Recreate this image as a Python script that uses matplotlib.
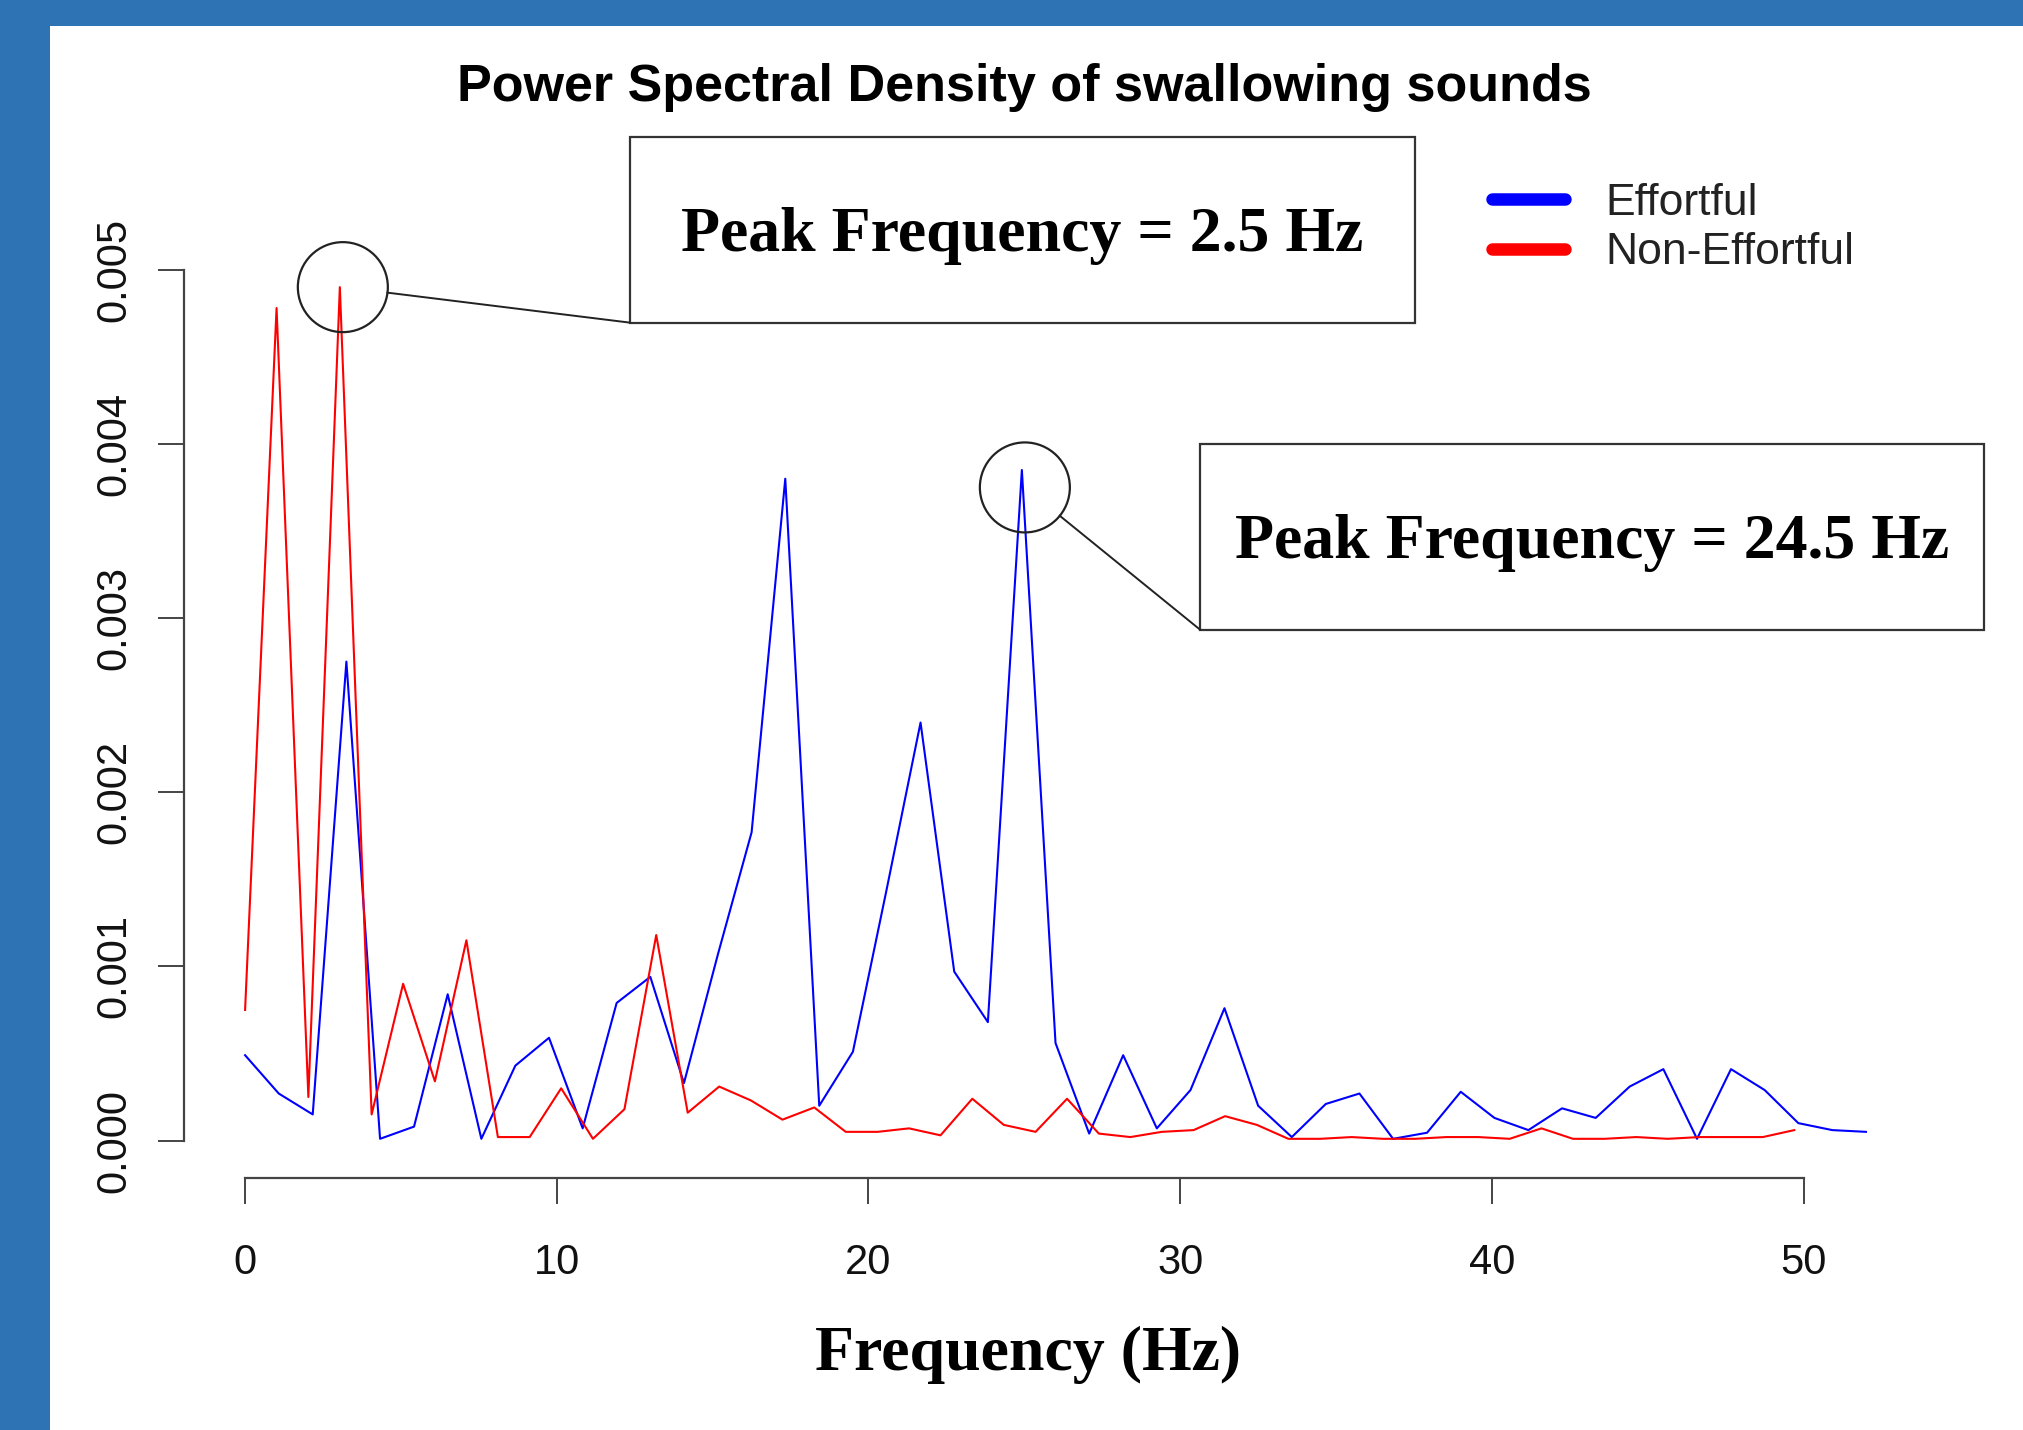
import numpy as np
import matplotlib
matplotlib.use('Agg')
import matplotlib.pyplot as plt
from matplotlib.lines import Line2D
from matplotlib.patches import Rectangle, Circle
from matplotlib.ticker import FormatStrFormatter

# frequency grids (Hz)
freq_effortful = [0.0, 1.08, 2.17, 3.25, 4.33, 5.42, 6.5, 7.58, 8.67, 9.75,
                  10.83, 11.92, 13.0, 14.08, 15.17, 16.25, 17.33, 18.42, 19.5, 20.58,
                  21.67, 22.75, 23.83, 24.92, 26.0, 27.08, 28.17, 29.25, 30.33, 31.42,
                  32.5, 33.58, 34.67, 35.75, 36.83, 37.92, 39.0, 40.08, 41.17, 42.25,
                  43.33, 44.42, 45.5, 46.58, 47.67, 48.75, 49.83, 50.92, 52.0]
psd_effortful = [0.49, 0.27, 0.15, 2.75, 0.01, 0.08, 0.84, 0.01, 0.43, 0.59,
                 0.07, 0.79, 0.94, 0.33, 1.07, 1.77, 3.80, 0.20, 0.51, 1.44,
                 2.40, 0.97, 0.68, 3.85, 0.56, 0.04, 0.49, 0.07, 0.29, 0.76,
                 0.20, 0.02, 0.21, 0.27, 0.01, 0.045, 0.28, 0.13, 0.06, 0.185,
                 0.13, 0.31, 0.41, 0.01, 0.41, 0.29, 0.10, 0.06, 0.05]

freq_non_effortful = [0.0, 1.01, 2.03, 3.04, 4.06, 5.07, 6.09, 7.1, 8.11, 9.13,
                      10.14, 11.16, 12.17, 13.19, 14.2, 15.21, 16.23, 17.24, 18.26, 19.27,
                      20.29, 21.3, 22.31, 23.33, 24.34, 25.36, 26.37, 27.39, 28.4, 29.41,
                      30.43, 31.44, 32.46, 33.47, 34.49, 35.5, 36.51, 37.53, 38.54, 39.56,
                      40.57, 41.59, 42.6, 43.61, 44.63, 45.64, 46.66, 47.67, 48.69, 49.7]
psd_non_effortful = [0.75, 4.78, 0.25, 4.90, 0.15, 0.90, 0.34, 1.15, 0.02, 0.02,
                     0.30, 0.01, 0.18, 1.18, 0.16, 0.31, 0.23, 0.12, 0.19, 0.05,
                     0.05, 0.07, 0.03, 0.24, 0.09, 0.05, 0.24, 0.04, 0.02, 0.05,
                     0.06, 0.14, 0.09, 0.01, 0.01, 0.02, 0.01, 0.01, 0.02, 0.02,
                     0.01, 0.07, 0.01, 0.01, 0.02, 0.01, 0.02, 0.02, 0.02, 0.06]

psd_effortful = np.array(psd_effortful) * 1e-3
psd_non_effortful = np.array(psd_non_effortful) * 1e-3

x_ticks = [0, 10, 20, 30, 40, 50]
y_ticks = [0.000, 0.001, 0.002, 0.003, 0.004, 0.005]
peak_labels = ['Peak Frequency = 2.5 Hz', 'Peak Frequency = 24.5 Hz']

W, H = 2023, 1430
sans = 'Liberation Sans'
serif = 'Liberation Serif'
frame_blue = '#2E74B5'

fig = plt.figure(figsize=(W / 100, H / 100), dpi=100)
fig.patch.set_facecolor('white')

# main axes (R style: detached axes with padded data range)
left, right, top, bottom = 184.3, 1930.8, 253.0, 1178.0
ax = fig.add_axes([left / W, 1 - bottom / H, (right - left) / W, (bottom - top) / H])
ax.plot(freq_effortful, psd_effortful, color='#0000FF', lw=1.5)
ax.plot(freq_non_effortful, psd_non_effortful, color='#FF0000', lw=1.5)
ax.set_xlim(-1.95, 54.08)
ax.set_ylim(-0.000215, 0.005096)

for s in ['top', 'right']:
    ax.spines[s].set_visible(False)
ax.spines['left'].set_bounds(0, 0.005)
ax.spines['bottom'].set_bounds(0, 50)
for s in ['left', 'bottom']:
    ax.spines[s].set_color('#444444')
    ax.spines[s].set_linewidth(1.6)

ax.set_xticks(x_ticks)
ax.set_yticks(y_ticks)
ax.yaxis.set_major_formatter(FormatStrFormatter('%.3f'))
ax.tick_params(axis='both', length=19, width=1.4, color='#444444', labelsize=30)
ax.tick_params(axis='x', pad=28)
ax.tick_params(axis='y', pad=17, labelrotation=90)
for lab in ax.get_yticklabels():
    lab.set_va('center')
for lab in ax.get_xticklabels() + ax.get_yticklabels():
    lab.set_fontfamily(sans)
    lab.set_color('#111111')

ax.set_xlabel('Frequency (Hz)', fontfamily=serif, fontweight='bold', fontsize=46)
ax.xaxis.set_label_coords((1028 - left) / (right - left), -(1355 - bottom) / (bottom - top))
ax.xaxis.label.set_va('center')

# overlay in pixel coordinates for the frame, title, boxes and callouts
ov = fig.add_axes([0, 0, 1, 1], zorder=5)
ov.set_xlim(0, W)
ov.set_ylim(H, 0)
ov.axis('off')
ov.patch.set_alpha(0)

ov.add_patch(Rectangle((0, 0), W, 26, color=frame_blue, lw=0))
ov.add_patch(Rectangle((0, 0), 50, H, color=frame_blue, lw=0))

ov.text(1024, 87, 'Power Spectral Density of swallowing sounds', fontfamily=sans,
        fontweight='bold', fontsize=37.5, ha='center', va='center', color='black')

# legend
handles = [Line2D([], [], color='#0000FF', lw=9, solid_capstyle='round'),
           Line2D([], [], color='#FF0000', lw=9, solid_capstyle='round')]
leg = ax.legend(handles, ['Effortful', 'Non-Effortful'], loc='center left',
                bbox_to_anchor=(1452 / W, 1 - 228 / H), bbox_transform=fig.transFigure,
                frameon=False, handlelength=1.65, handletextpad=0.9, labelspacing=0.2,
                prop={'family': sans, 'size': 32})
for t in leg.get_texts():
    t.set_color('#222222')

# callouts: circle on each peak, line to a text box
fig.canvas.draw()


def to_px(x, y):
    dx, dy = ax.transData.transform((x, y))
    return dx, H - dy


i_red = int(np.argmax(psd_non_effortful))
i_blue = int(np.argmax(psd_effortful))
peaks = [to_px(freq_non_effortful[i_red], psd_non_effortful[i_red]),
         to_px(freq_effortful[i_blue], psd_effortful[i_blue] - 0.0001)]
boxes = [(629.6, 136.8, 1415.3, 322.6), (1200.0, 443.8, 1984.3, 629.6)]
r = 45
for (cx, cy), (x0, y0, x1, y1), label in zip(peaks, boxes, peak_labels):
    ov.add_patch(Circle((cx + 3, cy), r, fill=False, ec='#222222', lw=1.6))
    ov.add_patch(Rectangle((x0, y0), x1 - x0, y1 - y0, fill=False, ec='#333333', lw=1.6))
    ang = np.arctan2(y1 - cy, x0 - cx - 3)
    ov.plot([cx + 3 + r * np.cos(ang), x0], [cy + r * np.sin(ang), y1], color='#222222', lw=1.4)
    ov.text((x0 + x1) / 2, (y0 + y1) / 2 + 6, label, fontfamily=serif, fontweight='bold',
            fontsize=46, ha='center', va='center', color='black')

fig.savefig('out.png', dpi=100)
